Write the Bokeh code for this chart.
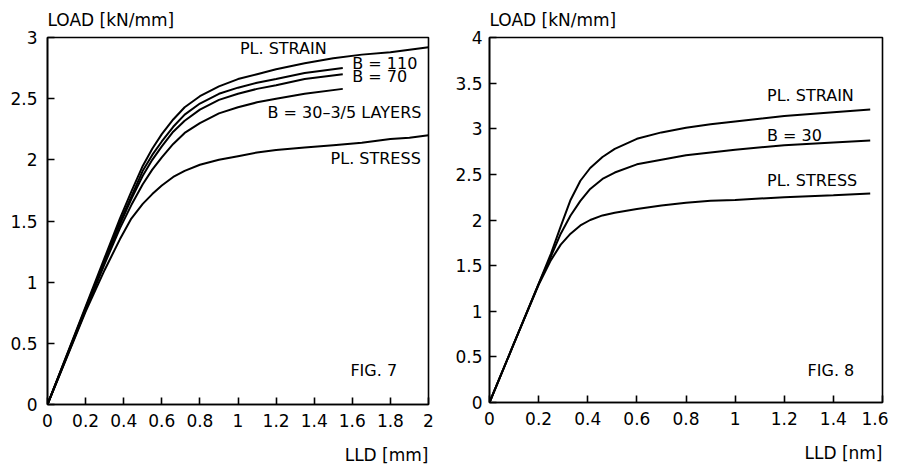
from bokeh.plotting import figure
from bokeh.layouts import row
from bokeh.models import FixedTicker, Title, Range1d
from bokeh.core.properties import value
from bokeh.embed import file_html
from bokeh.resources import INLINE

FONT = "DejaVu Sans"

# ---- FIG. 7 data ----
f7_x_main = [0, 0.2, 0.3, 0.38, 0.44, 0.5, 0.55, 0.6, 0.66, 0.72, 0.8, 0.9, 1.0, 1.1, 1.2, 1.35, 1.55]
f7_x_long = [0, 0.2, 0.3, 0.38, 0.44, 0.5, 0.55, 0.6, 0.66, 0.72, 0.8, 0.9, 1.0, 1.1, 1.2, 1.35, 1.5, 1.65, 1.8, 1.9, 2.0]
f7_pl_strain = [0, 0.80, 1.20, 1.52, 1.74, 1.95, 2.09, 2.21, 2.33, 2.43, 2.52, 2.60, 2.66, 2.70, 2.74, 2.79, 2.83, 2.86, 2.88, 2.90, 2.92]
f7_b110 = [0, 0.79, 1.18, 1.49, 1.70, 1.91, 2.04, 2.15, 2.27, 2.37, 2.46, 2.54, 2.59, 2.63, 2.66, 2.71, 2.75]
f7_b70 = [0, 0.78, 1.17, 1.47, 1.68, 1.87, 2.00, 2.11, 2.23, 2.32, 2.41, 2.49, 2.54, 2.58, 2.61, 2.66, 2.70]
f7_b30 = [0, 0.77, 1.15, 1.44, 1.63, 1.80, 1.92, 2.02, 2.13, 2.22, 2.30, 2.38, 2.43, 2.47, 2.50, 2.54, 2.58]
f7_pl_stress = [0, 0.76, 1.10, 1.35, 1.52, 1.64, 1.72, 1.79, 1.86, 1.91, 1.96, 2.00, 2.03, 2.06, 2.08, 2.10, 2.12, 2.14, 2.17, 2.18, 2.20]

f7_labels = ["PL. STRAIN", "B = 110", "B = 70", "B = 30\u20133/5 LAYERS", "PL. STRESS", "FIG. 7"]
f7_label_x = [1.01, 1.60, 1.60, 1.155, 1.486, 1.59]
f7_label_y = [2.91, 2.79, 2.68, 2.39, 2.01, 0.28]

f7_xticks = [0, 0.2, 0.4, 0.6, 0.8, 1.0, 1.2, 1.4, 1.6, 1.8, 2.0]
f7_xtick_labels = ["0", "0.2", "0.4", "0.6", "0.8", "1", "1.2", "1.4", "1.6", "1.8", "2"]
f7_yticks = [0, 0.5, 1.0, 1.5, 2.0, 2.5, 3.0]
f7_ytick_labels = ["0", "0.5", "1", "1.5", "2", "2.5", "3"]

# ---- FIG. 8 data ----
f8_x = [0, 0.1, 0.2, 0.25, 0.29, 0.33, 0.37, 0.41, 0.46, 0.51, 0.6, 0.7, 0.8, 0.9, 1.0, 1.2, 1.4, 1.55]
f8_pl_strain = [0, 0.65, 1.30, 1.63, 1.93, 2.22, 2.43, 2.57, 2.69, 2.78, 2.89, 2.96, 3.01, 3.05, 3.08, 3.14, 3.18, 3.21]
f8_b30 = [0, 0.65, 1.30, 1.60, 1.85, 2.05, 2.21, 2.34, 2.45, 2.52, 2.61, 2.66, 2.71, 2.74, 2.77, 2.82, 2.85, 2.87]
f8_pl_stress = [0, 0.65, 1.29, 1.56, 1.73, 1.85, 1.94, 2.00, 2.05, 2.08, 2.12, 2.16, 2.19, 2.21, 2.22, 2.25, 2.27, 2.29]

f8_labels = ["PL. STRAIN", "B = 30", "PL. STRESS", "FIG. 8"]
f8_label_x = [1.13, 1.13, 1.13, 1.295]
f8_label_y = [3.36, 2.93, 2.43, 0.35]

f8_xticks = [0, 0.2, 0.4, 0.6, 0.8, 1.0, 1.2, 1.4, 1.6]
f8_xtick_labels = ["0", "0.2", "0.4", "0.6", "0.8", "1", "1.2", "1.4", "1.6"]
f8_yticks = [0, 0.5, 1.0, 1.5, 2.0, 2.5, 3.0, 3.5, 4.0]
f8_ytick_labels = ["0", "0.5", "1", "1.5", "2", "2.5", "3", "3.5", "4"]


def make_fig(width, height, bl, br, bt, bb, xr, yr, xticks, xlabels, yticks, ylabels,
             ylab, xlab, ystandoff):
    p = figure(width=width, height=height, output_backend="svg", toolbar_location=None,
               x_range=Range1d(*xr), y_range=Range1d(*yr),
               min_border_left=bl, min_border_right=br, min_border_top=bt, min_border_bottom=bb)
    p.grid.visible = False
    p.background_fill_color = "white"
    p.outline_line_color = "black"
    p.outline_line_width = 1.6
    p.xaxis.ticker = FixedTicker(ticks=xticks)
    p.yaxis.ticker = FixedTicker(ticks=yticks)
    p.xaxis.major_label_overrides = {t: l for t, l in zip(xticks, xlabels)}
    p.yaxis.major_label_overrides = {t: l for t, l in zip(yticks, ylabels)}
    for ax in (p.xaxis[0], p.yaxis[0]):
        ax.major_tick_in = 7
        ax.major_tick_out = 0
        ax.minor_tick_in = 0
        ax.minor_tick_out = 0
        ax.axis_line_color = "black"
        ax.axis_line_width = 1.6
        ax.major_tick_line_color = "black"
        ax.major_tick_line_width = 1.6
        ax.major_label_text_font = FONT
        ax.major_label_text_font_size = "17px"
        ax.major_label_text_color = "black"
    p.xaxis.major_label_standoff = 9
    p.yaxis.major_label_standoff = ystandoff
    # invisible spacer label to push the bottom title lower
    p.xaxis.axis_label = " "
    p.xaxis.axis_label_text_font_size = "6px"
    p.xaxis.axis_label_standoff = 3
    top = Title(text=ylab, align="left", text_font=FONT, text_font_size="17px",
                text_font_style="normal", text_color="black", standoff=15, offset=0)
    p.add_layout(top, "above")
    bot = Title(text=xlab, align="right", text_font=FONT, text_font_size="17px",
                text_font_style="normal", text_color="black", standoff=2, offset=0)
    p.add_layout(bot, "below")
    return p


p1 = make_fig(438, 467, 47, 10, 35, 63, (0, 2), (0, 3),
              f7_xticks, f7_xtick_labels, f7_yticks, f7_ytick_labels,
              "LOAD [kN/mm]", "LLD [mm]", 10)
p1.line(f7_x_long, f7_pl_strain, line_color="black", line_width=2)
p1.line(f7_x_main, f7_b110, line_color="black", line_width=2)
p1.line(f7_x_main, f7_b70, line_color="black", line_width=2)
p1.line(f7_x_main, f7_b30, line_color="black", line_width=2)
p1.line(f7_x_long, f7_pl_stress, line_color="black", line_width=2)
p1.text(x=f7_label_x, y=f7_label_y, text=f7_labels, text_font=value(FONT),
        text_font_size="16px", text_align="left", text_baseline="middle", text_color="black")

p2 = make_fig(450, 465, 51, 6, 34, 63, (0, 1.6), (0, 4),
              f8_xticks, f8_xtick_labels, f8_yticks, f8_ytick_labels,
              "LOAD [kN/mm]", "LLD [nm]", 7)
p2.line(f8_x, f8_pl_strain, line_color="black", line_width=2)
p2.line(f8_x, f8_b30, line_color="black", line_width=2)
p2.line(f8_x, f8_pl_stress, line_color="black", line_width=2)
p2.text(x=f8_label_x, y=f8_label_y, text=f8_labels, text_font=value(FONT),
        text_font_size="16px", text_align="left", text_baseline="middle", text_color="black")

layout = row(p1, p2)
open("out.html", "w").write(file_html(layout, INLINE))
